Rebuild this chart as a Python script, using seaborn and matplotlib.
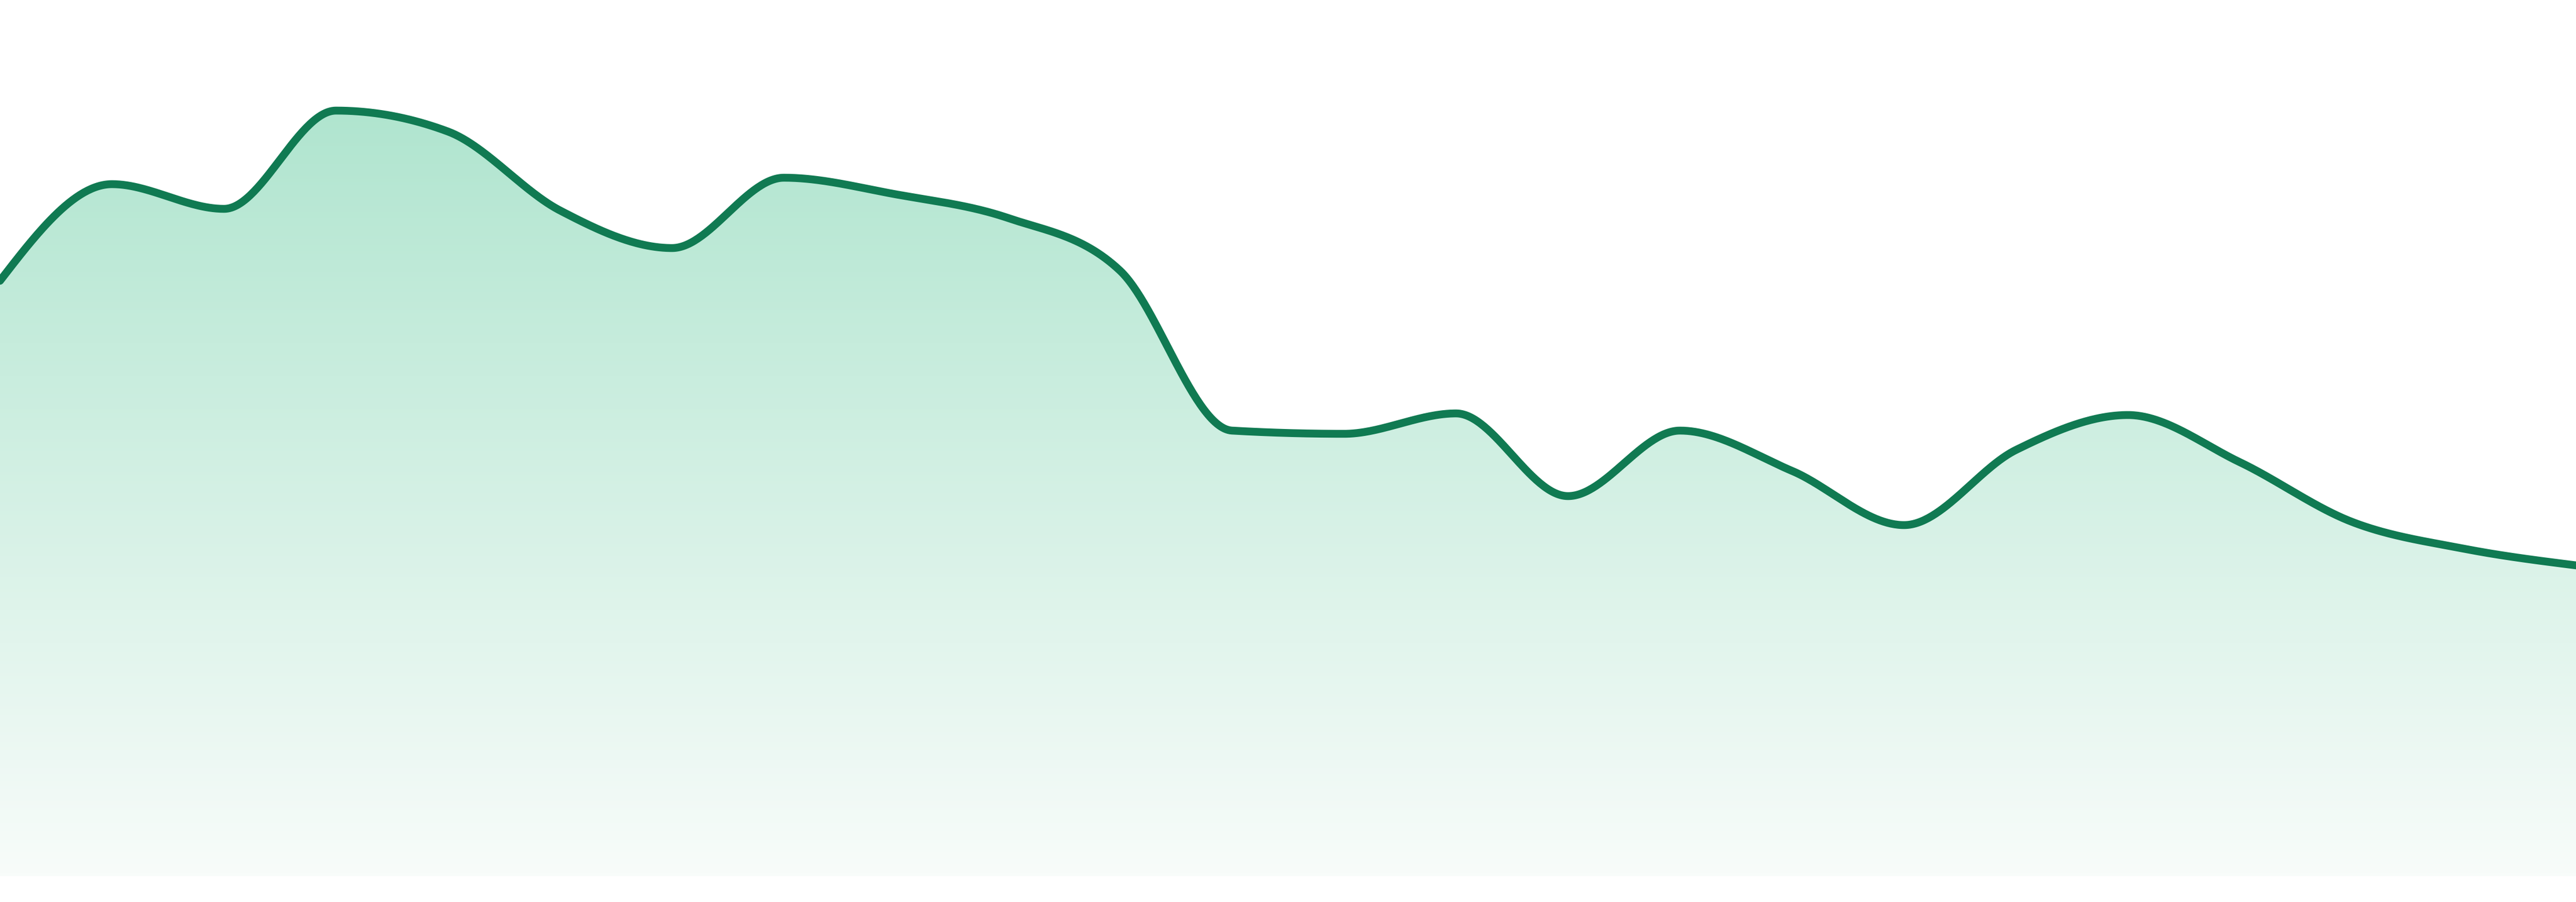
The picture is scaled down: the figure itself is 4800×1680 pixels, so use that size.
import numpy as np
import pandas as pd
import matplotlib.pyplot as plt
import seaborn as sns
from matplotlib.colors import LinearSegmentedColormap

# values (24 evenly spaced points, baseline = 0)
steps = list(range(24))
values = [110.9, 128.9, 124.3, 142.6, 138.7, 124.0, 117.0, 130.1, 127.0, 122.6,
          112.8, 83.0, 82.4, 86.2, 70.8, 83.0, 75.5, 65.4, 79.4, 85.9,
          77.1, 66.0, 61.0, 57.9]

line_color = '#107a52'
fill_top = '#b0e5cf'
fill_bottom = '#f8fcfa'


def monotone_x(x, y, n=60):
    # monotone cubic interpolation (same slopes as d3.curveMonotoneX)
    x = np.asarray(x, float)
    y = np.asarray(y, float)
    h = np.diff(x)
    s = np.diff(y) / h
    t = np.zeros_like(y)
    for i in range(1, len(x) - 1):
        p = (s[i - 1] * h[i] + s[i] * h[i - 1]) / (h[i - 1] + h[i])
        t[i] = (np.sign(s[i - 1]) + np.sign(s[i])) * min(abs(s[i - 1]), abs(s[i]), 0.5 * abs(p))
    t[0] = (3 * s[0] - t[1]) / 2
    t[-1] = (3 * s[-1] - t[-2]) / 2
    xs, ys = [], []
    for i in range(len(x) - 1):
        u = np.linspace(0, 1, n, endpoint=False)
        h00 = 2 * u**3 - 3 * u**2 + 1
        h10 = u**3 - 2 * u**2 + u
        h01 = -2 * u**3 + 3 * u**2
        h11 = u**3 - u**2
        xs.append(x[i] + u * h[i])
        ys.append(h00 * y[i] + h10 * h[i] * t[i] + h01 * y[i + 1] + h11 * h[i] * t[i + 1])
    xs.append([x[-1]])
    ys.append([y[-1]])
    return np.concatenate(xs), np.concatenate(ys)


xs, ys = monotone_x(steps, values)
curve = pd.DataFrame({'step': xs, 'value': ys})

sns.set_style('white')
fig = plt.figure(figsize=(48, 16.8), dpi=100)
ax = fig.add_axes([0, 48 / 1680, 1, 1632 / 1680])

# gradient fill under the curve, clipped to the area polygon
area = ax.fill_between(curve['step'], curve['value'], 0, color='none', lw=0)
cmap = LinearSegmentedColormap.from_list('grad', [fill_bottom, fill_top])
grad = np.linspace(0, 1, 256).reshape(-1, 1)
img = ax.imshow(grad, cmap=cmap, aspect='auto', origin='lower',
                extent=[0, 23, 0, max(values)], zorder=1)
img.set_clip_path(area.get_paths()[0], transform=ax.transData)

sns.lineplot(data=curve, x='step', y='value', ax=ax, color=line_color,
             linewidth=10.5, sort=False, zorder=3)

ax.set_xlim(0, 23)
ax.set_ylim(0, 163.2)
ax.axis('off')

fig.savefig('out.png', dpi=100, facecolor='white')
plt.close(fig)
